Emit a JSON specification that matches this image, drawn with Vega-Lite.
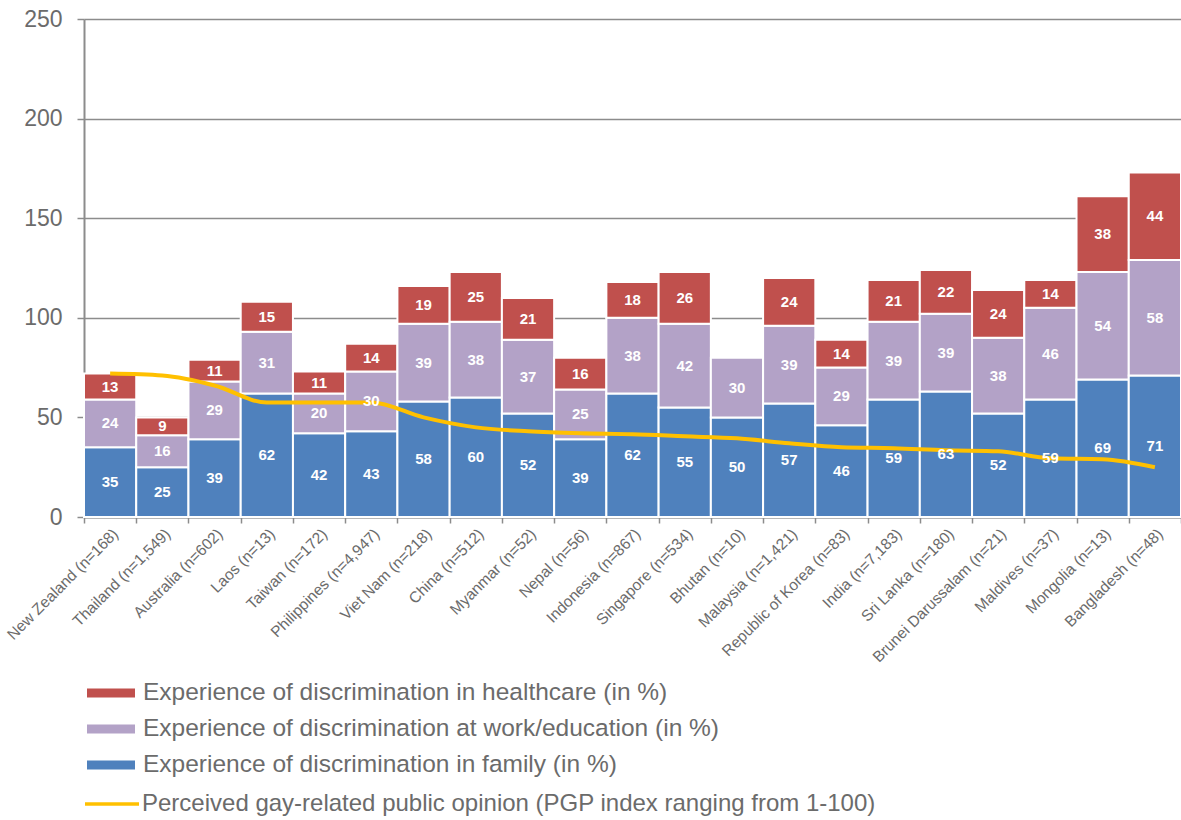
{
  "$schema": "https://vega.github.io/schema/vega-lite/v6.json",
  "width": 1097,
  "height": 498,
  "autosize": {"type": "none"},
  "padding": {"left": 84, "top": 19, "right": 0, "bottom": 303},
  "config": {
    "view": {"stroke": null},
    "font": "Liberation Sans",
    "axisY": {
      "grid": true, "gridColor": "#8c8c8c", "gridWidth": 1.5,
      "domainColor": "#8c8c8c", "domainWidth": 2,
      "tickColor": "#8c8c8c", "tickSize": 7, "tickWidth": 1.5,
      "labelFontSize": 23, "labelColor": "#6b6b6b", "labelPadding": 15,
      "title": null
    },
    "axisX": {
      "domainColor": "#8c8c8c", "domainWidth": 2,
      "tickColor": "#8c8c8c", "tickSize": 6, "tickWidth": 1.5,
      "labelFontSize": 15.5, "labelColor": "#6b6b6b", "labelPadding": 3, "labelLimit": 400,
      "title": null
    }
  },
  "data": {
    "values": [
      {"country": "New Zealand (n=168)", "family": 35, "work": 24, "healthcare": 13, "pgp": 72},
      {"country": "Thailand (n=1,549)", "family": 25, "work": 16, "healthcare": 9, "pgp": 71},
      {"country": "Australia (n=602)", "family": 39, "work": 29, "healthcare": 11, "pgp": 66},
      {"country": "Laos (n=13)", "family": 62, "work": 31, "healthcare": 15, "pgp": 57.5},
      {"country": "Taiwan (n=172)", "family": 42, "work": 20, "healthcare": 11, "pgp": 57.5},
      {"country": "Philippines (n=4,947)", "family": 43, "work": 30, "healthcare": 14, "pgp": 57.5},
      {"country": "Viet Nam (n=218)", "family": 58, "work": 39, "healthcare": 19, "pgp": 50},
      {"country": "China (n=512)", "family": 60, "work": 38, "healthcare": 25, "pgp": 45},
      {"country": "Myanmar (n=52)", "family": 52, "work": 37, "healthcare": 21, "pgp": 43},
      {"country": "Nepal (n=56)", "family": 39, "work": 25, "healthcare": 16, "pgp": 42},
      {"country": "Indonesia (n=867)", "family": 62, "work": 38, "healthcare": 18, "pgp": 41.5},
      {"country": "Singapore (n=534)", "family": 55, "work": 42, "healthcare": 26, "pgp": 40.5},
      {"country": "Bhutan (n=10)", "family": 50, "work": 30, "healthcare": 0, "pgp": 39.5},
      {"country": "Malaysia (n=1,421)", "family": 57, "work": 39, "healthcare": 24, "pgp": 37},
      {"country": "Republic of Korea (n=83)", "family": 46, "work": 29, "healthcare": 14, "pgp": 35},
      {"country": "India (n=7,183)", "family": 59, "work": 39, "healthcare": 21, "pgp": 34.5},
      {"country": "Sri Lanka (n=180)", "family": 63, "work": 39, "healthcare": 22, "pgp": 33.5},
      {"country": "Brunei Darussalam (n=21)", "family": 52, "work": 38, "healthcare": 24, "pgp": 33},
      {"country": "Maldives (n=37)", "family": 59, "work": 46, "healthcare": 14, "pgp": 29.5},
      {"country": "Mongolia (n=13)", "family": 69, "work": 54, "healthcare": 38, "pgp": 29},
      {"country": "Bangladesh (n=48)", "family": 71, "work": 58, "healthcare": 44, "pgp": 25}
    ]
  },
  "layer": [
    {
      "transform": [
        {"fold": ["family", "work", "healthcare"], "as": ["series", "pct"]},
        {"filter": "datum.pct > 0"},
        {"stack": "pct", "groupby": ["country"], "as": ["y0", "y1"]}
      ],
      "mark": {"type": "bar", "stroke": "white", "strokeWidth": 2},
      "encoding": {
        "x": {"field": "country", "type": "nominal", "sort": null,
              "scale": {"paddingInner": 0, "paddingOuter": 0},
              "axis": {"labelAngle": -45, "tickBand": "extent"}},
        "y": {"field": "y0", "type": "quantitative", "scale": {"domain": [0, 250]},
              "axis": {"values": [0, 50, 100, 150, 200, 250]}},
        "y2": {"field": "y1"},
        "color": {
          "field": "series", "type": "nominal",
          "scale": {"domain": ["healthcare", "work", "family"], "range": ["#C0504D", "#B3A2C7", "#4F81BD"]},
          "legend": {
            "orient": "none", "legendX": 3, "legendY": 650, "direction": "vertical",
            "title": null, "padding": 0,
            "symbolType": "M-1,-0.19H1V0.19H-1Z", "symbolSize": 2304, "symbolStrokeWidth": 0,
            "labelFontSize": 24.5, "labelColor": "#6b6b6b", "labelOffset": 8, "rowPadding": -10,
            "labelLimit": 1000,
            "labelExpr": "datum.label == 'healthcare' ? 'Experience of discrimination in healthcare (in %)' : datum.label == 'work' ? 'Experience of discrimination at work/education (in %)' : 'Experience of discrimination in family (in %)'"
          }
        }
      }
    },
    {
      "mark": {"type": "line", "strokeWidth": 4, "interpolate": "monotone"},
      "encoding": {
        "x": {"field": "country", "type": "nominal", "sort": null},
        "y": {"field": "pgp", "type": "quantitative", "scale": {"domain": [0, 250]}},
        "stroke": {
          "datum": "Perceived gay-related public opinion (PGP index ranging from 1-100)",
          "scale": {"range": ["#FFC000"]},
          "legend": {
            "orient": "none", "legendX": -1, "legendY": 756, "title": null, "padding": 0,
            "symbolType": "stroke", "symbolSize": 2916, "symbolStrokeWidth": 3.5,
            "labelFontSize": 24, "labelColor": "#6b6b6b", "labelOffset": 1, "labelLimit": 1000
          }
        }
      }
    },
    {
      "transform": [
        {"fold": ["family", "work", "healthcare"], "as": ["series", "pct"]},
        {"filter": "datum.pct > 0"},
        {"stack": "pct", "groupby": ["country"], "as": ["y0", "y1"]},
        {"calculate": "(datum.y0 + datum.y1) / 2", "as": "mid"}
      ],
      "mark": {"type": "text", "color": "white", "fontWeight": "bold", "fontSize": 15, "baseline": "middle"},
      "encoding": {
        "x": {"field": "country", "type": "nominal", "sort": null},
        "y": {"field": "mid", "type": "quantitative", "scale": {"domain": [0, 250]}},
        "text": {"field": "pct", "type": "quantitative"}
      }
    }
  ]
}
